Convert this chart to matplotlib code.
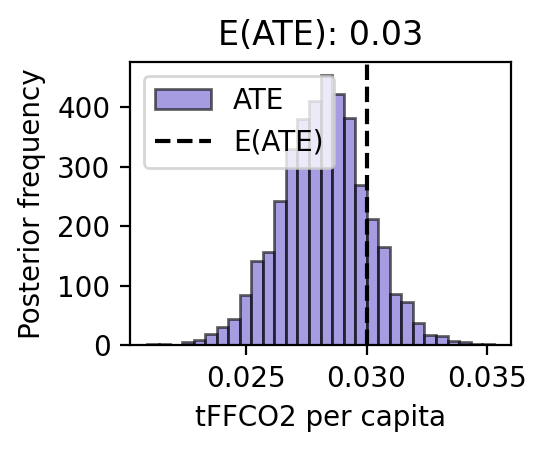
import numpy as np
import matplotlib
matplotlib.use("Agg")
import matplotlib.pyplot as plt

# histogram of posterior ATE draws, 30 bins
x_min = 0.02093
x_max = 0.03526
counts = [2, 3, 1, 5, 9, 19, 31, 44, 84, 141,
          157, 242, 330, 380, 410, 454, 422, 383, 269, 212,
          166, 87, 72, 37, 18, 16, 7, 5, 3, 2]
ate_mean = 0.03

edges = np.linspace(x_min, x_max, len(counts) + 1)
centers = (edges[:-1] + edges[1:]) / 2

fig = plt.figure(figsize=(2.74, 2.25), dpi=200)
ax = fig.add_axes([130 / 548, (450 - 345.3) / 450, 381 / 548, 283.5 / 450])
ax.hist(centers, bins=edges, weights=counts, color='slateblue',
        edgecolor='black', alpha=0.6, label='ATE')
ax.axvline(ate_mean, color='black', linestyle='--', label='E(ATE)')
ax.set_xlabel('tFFCO2 per capita')
ax.set_ylabel('Posterior frequency')
ax.set_title('E(ATE): ' + str(round(ate_mean, 2)))
ax.legend(loc='upper left')
fig.savefig('out.png', dpi=200)
